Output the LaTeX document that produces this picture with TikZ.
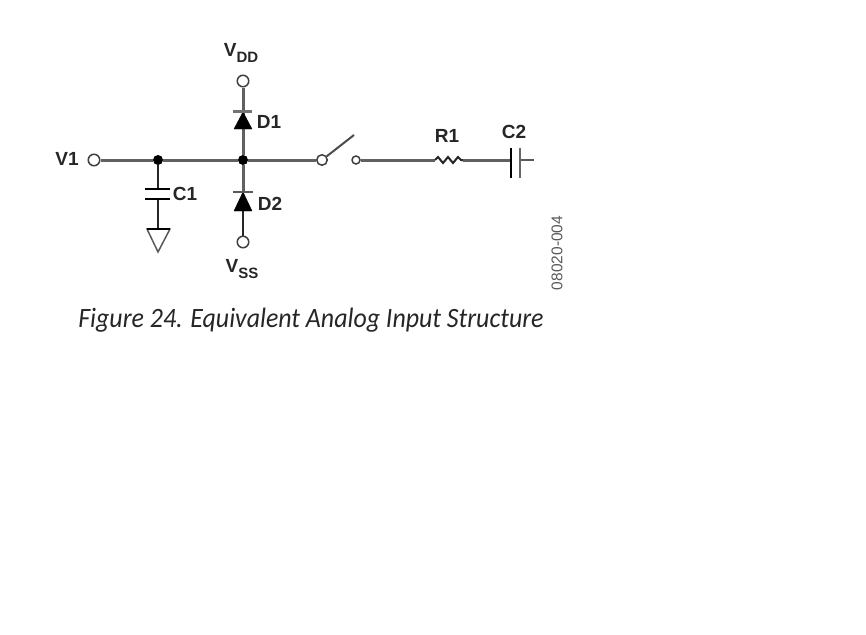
\documentclass[tikz,border=0pt]{standalone}
\usepackage{fontspec}
\setmainfont{Liberation Sans}
\newfontfamily\capfont{Carlito}
\usetikzlibrary{positioning}
\tikzset{
	wire/.style={line width=3pt,draw=black!62},
	thinwire/.style={line width=2pt,draw=black!85},
	pin/.style={circle,draw=black!75,line width=1.5pt,fill=white,minimum size=11.5pt,inner sep=0pt},
	smallpin/.style={circle,draw=black!75,line width=1.5pt,fill=white,minimum size=8pt,inner sep=0pt},
	junction/.style={circle,fill=black,minimum size=10pt,inner sep=0pt},
	partlabel/.style={font=\fontsize{19}{20}\selectfont\bfseries,text=black!85,inner sep=0pt},
	plate/.style={line width=2.4pt,draw=black},
	diode/.style={fill=black,draw=black}
}
\newcommand{\railname}[1]{V\raisebox{-0.3em}{\fontsize{15}{15}\selectfont #1}}
\begin{document}
\begin{tikzpicture}[x=1pt,y=-1pt]
	\useasboundingbox (0,0) rectangle (866,634);
	% terminals
	\node[pin] (vone) at (94,160) {};
	\node[pin] (vdd) at (243,81) {};
	\node[pin] (vss) at (243,242) {};
	\node[junction] (jleft) at (158,160) {};
	\node[junction] (jmid) at (243,160) {};
	\node[pin,minimum size=10.5pt] (swa) at (322,160) {};
	\node[smallpin] (swb) at (356,160) {};
	\coordinate (swtip) at (354,135);
	% labels
	\node[partlabel] (lvone) at (67,159) {V1};
	\node[partlabel] (lvdd) at (241,53) {\railname{DD}};
	\node[partlabel] (lvss) at (242,269) {\railname{SS}};
	\node[partlabel] (ldone) at (269,122) {D1};
	\node[partlabel] (ldtwo) at (270,204) {D2};
	\node[partlabel] (lcone) at (185,194) {C1};
	\node[partlabel] (lrone) at (447,136) {R1};
	\node[partlabel] (lctwo) at (514,132) {C2};
	% main line
	\coordinate (rin) at (435,160);
	\coordinate (rout) at (463,160);
	\coordinate (ctwoa) at (511,160);
	\coordinate (ctwob) at (520,160);
	\coordinate (ctwoend) at (534,160);
	\draw[wire] (vone) -- (jleft);
	\draw[wire] (jleft) -- (jmid);
	\draw[wire] (jmid) -- (swa);
	\draw[thinwire,draw=black!70] (swa) -- (swtip);
	\draw[wire] (swb) -- (rin);
	\draw[thinwire] (rin) -- ++(3,-3) -- ++(5,6) -- ++(5,-6) -- ++(5,6) -- ++(5,-6) -- ++(3,3) -- (rout);
	\draw[wire] (rout) -- (ctwoa);
	\draw[thinwire,draw=black!65] (ctwob) -- (ctwoend);
	\draw[plate] (511,148) -- (511,178);
	\draw[plate,draw=black!60] (520,148) -- (520,178);
	% D1
	\coordinate (done) at (243,111);
	\coordinate (dtwo) at (243,192);
	\draw[wire] (vdd) -- (done);
	\draw[wire] (done) -- (jmid);
	\draw[diode] (243,112) -- (252,129) -- (234,129) -- cycle;
	\draw[plate,draw=black!55,line width=3pt] (233,111) -- (252,111);
	% D2
	\draw[wire] (jmid) -- (dtwo);
	\draw[thinwire] (dtwo) -- (vss);
	\draw[diode] (243,192) -- (252,211) -- (234,211) -- cycle;
	\draw[plate,draw=black!65] (233,192) -- (253,192);
	% C1 and ground
	\coordinate (conea) at (158,189);
	\coordinate (coneb) at (158,199);
	\coordinate (gnd) at (158,229);
	\draw[thinwire] (jleft) -- (conea);
	\draw[thinwire] (coneb) -- (gnd);
	\draw[plate] (145,189) -- (170,189);
	\draw[plate] (145,199) -- (170,199);
	\draw[black!65,line width=1.5pt] (147,229) -- (170,229) -- (158,252) -- cycle;
	\draw[black,line width=2.4pt] (147,229) -- (170,229);
	% caption and drawing number
	\node[inner sep=0pt,xscale=0.925,font=\capfont\itshape\fontsize{28}{30}\selectfont,text=black!85] (caption) at (311,320) {Figure 24. Equivalent Analog Input Structure};
	\node[inner sep=0pt,rotate=90,font=\fontsize{15.5}{16}\selectfont,text=black!65] (drawno) at (557,253) {08020-004};
\end{tikzpicture}
\end{document}
